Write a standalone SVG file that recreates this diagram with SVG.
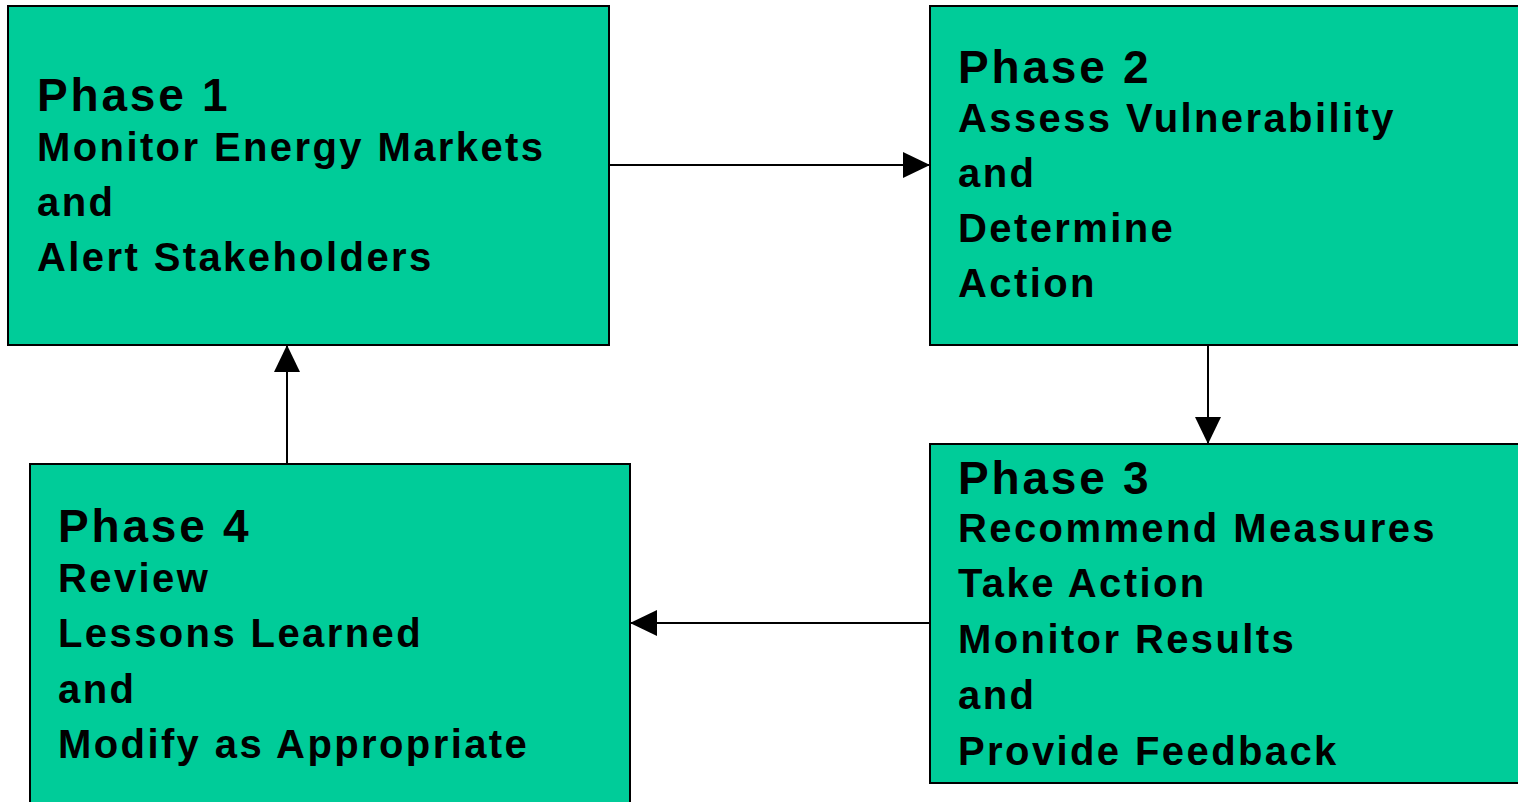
<svg xmlns="http://www.w3.org/2000/svg" width="1518" height="802" viewBox="0 0 1518 802">
  <style>
    .box { fill: #00CC99; stroke: #000; stroke-width: 2; }
    .title { font-family: "Liberation Sans", Arial, sans-serif; font-weight: bold; font-size: 46px; letter-spacing: 2.8px; fill: #000; }
    .body { font-family: "Liberation Sans", Arial, sans-serif; font-weight: bold; font-size: 40px; letter-spacing: 2.4px; fill: #000; }
    .link { stroke: #000; stroke-width: 2; fill: none; marker-end: url(#head); }
  </style>
  <defs>
    <marker id="head" viewBox="0 0 27 26" refX="27" refY="13" markerWidth="27" markerHeight="26" markerUnits="userSpaceOnUse" orient="auto">
      <path d="M0,0 L27,13 L0,26 Z" fill="#000"/>
    </marker>
  </defs>
  <rect width="1518" height="802" fill="#fff"/>

  <g id="connectors">
    <line class="link" x1="609" y1="165" x2="930" y2="165"/>
    <line class="link" x1="1208" y1="345" x2="1208" y2="444"/>
    <line class="link" x1="930" y1="623" x2="630" y2="623"/>
    <line class="link" x1="287" y1="464" x2="287" y2="345"/>
  </g>

  <g id="phase1">
    <rect class="box" x="8" y="6" width="601" height="339"/>
    <text class="title" x="37" y="111">Phase 1</text>
    <text class="body" x="37" y="161">Monitor Energy Markets</text>
    <text class="body" x="37" y="216">and</text>
    <text class="body" x="37" y="271">Alert Stakeholders</text>
  </g>

  <g id="phase2">
    <rect class="box" x="930" y="6" width="600" height="339"/>
    <text class="title" x="958" y="83">Phase 2</text>
    <text class="body" x="958" y="132">Assess Vulnerability</text>
    <text class="body" x="958" y="187">and</text>
    <text class="body" x="958" y="242">Determine</text>
    <text class="body" x="958" y="297">Action</text>
  </g>

  <g id="phase3">
    <rect class="box" x="930" y="444" width="600" height="339"/>
    <text class="title" x="958" y="494">Phase 3</text>
    <text class="body" x="958" y="542">Recommend Measures</text>
    <text class="body" x="958" y="597">Take Action</text>
    <text class="body" x="958" y="653">Monitor Results</text>
    <text class="body" x="958" y="709">and</text>
    <text class="body" x="958" y="765">Provide Feedback</text>
  </g>

  <g id="phase4">
    <rect class="box" x="30" y="464" width="600" height="350"/>
    <text class="title" x="58" y="542">Phase 4</text>
    <text class="body" x="58" y="592">Review</text>
    <text class="body" x="58" y="647">Lessons Learned</text>
    <text class="body" x="58" y="703">and</text>
    <text class="body" x="58" y="758">Modify as Appropriate</text>
  </g>
</svg>
